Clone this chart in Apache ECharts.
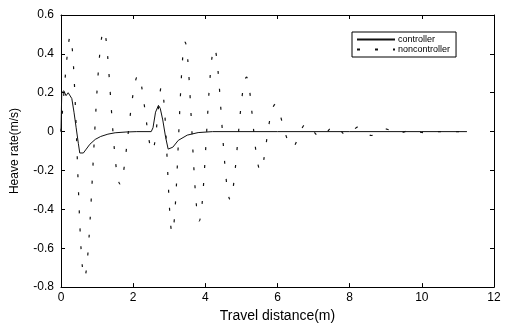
<!DOCTYPE html>
<html>
<head>
<meta charset="utf-8">
<script src="https://cdn.jsdelivr.net/npm/echarts@6/dist/echarts.min.js"></script>
<style>
html,body{margin:0;padding:0;background:#fff;}
#chart{width:507px;height:328px;}
</style>
</head>
<body>
<div id="chart"></div>
<script>
// Travel distance (m) and heave rate (m/s)
var controllerX = [0, 0.02, 0.08, 0.14, 0.2, 0.25, 0.3, 0.36, 0.42, 0.48, 0.52, 0.56, 0.62, 0.7, 0.8, 0.95, 1.1, 1.3, 1.5, 1.8, 2.1, 2.5,
  2.55, 2.62, 2.7, 2.75, 2.82, 2.9, 2.97, 3.02, 3.1, 3.25, 3.5, 3.8, 4.2, 6, 8, 10, 11.25];
var controllerY = [0, 0.2, 0.21, 0.185, 0.2, 0.21, 0.17, 0.1, 0.02, -0.06, -0.11, -0.12, -0.11, -0.09, -0.065, -0.04, -0.025, -0.013, -0.006, -0.002, 0, 0,
  0.02, 0.1, 0.135, 0.12, 0.06, -0.03, -0.09, -0.1, -0.08, -0.045, -0.018, -0.005, 0, 0, 0, 0, 0];

var noncontrollerX = [0, 0.25, 0.65, 1.19, 1.64, 2.14, 2.53, 2.78, 3.08, 3.44, 3.83, 4.25, 4.69, 5.14, 5.53, 5.94, 6.42,
  6.8, 7.2, 7.58, 7.92, 8.25, 8.6, 8.97, 9.33, 9.7, 10.05, 10.5, 11.25];
var noncontrollerY = [0, 0.49, -0.75, 0.52, -0.27, 0.29, -0.1, 0.23, -0.52, 0.46, -0.46, 0.43, -0.35, 0.28, -0.2, 0.14, -0.08,
  0.04, -0.03, 0.03, -0.02, 0.025, -0.02, 0.015, -0.01, 0.008, -0.005, 0, 0];

var xTicks = {min: 0, max: 12, interval: 2};
var yTicks = {min: -0.8, max: 0.6, interval: 0.2};

function pairs(xs, ys) { return xs.map(function (x, i) { return [x, ys[i]]; }); }

var FONT = '"Liberation Sans", Arial, sans-serif';
var axisLine = {show: true, onZero: false, lineStyle: {color: '#000', width: 1}};
var tick = {show: true, inside: true, length: 4, lineStyle: {color: '#000'}};

var chart = echarts.init(document.getElementById('chart'), null, {renderer: 'canvas'});
chart.setOption({
  animation: false,
  backgroundColor: '#fff',
  grid: {left: 61, right: 13, top: 15, bottom: 36},
  legend: {
    left: 352, top: 32, orient: 'vertical',
    itemWidth: 38, itemHeight: 8, itemGap: 1,
    padding: [3, 6, 3, 4],
    borderColor: '#000', borderWidth: 1, backgroundColor: '#fff',
    itemStyle: {opacity: 0},
    textStyle: {fontFamily: FONT, fontSize: 9, color: '#000', padding: [0, 0, 0, -2]},
    data: ['controller', 'noncontroller']
  },
  xAxis: [{
    type: 'value', min: xTicks.min, max: xTicks.max, interval: xTicks.interval,
    name: 'Travel distance(m)', nameLocation: 'middle', nameGap: 20,
    nameTextStyle: {fontFamily: FONT, fontSize: 14, color: '#000'},
    axisLine: axisLine, axisTick: tick, splitLine: {show: false},
    axisLabel: {fontFamily: FONT, fontSize: 12, color: '#000', margin: 5}
  }, {
    type: 'value', position: 'top', min: xTicks.min, max: xTicks.max, interval: xTicks.interval,
    axisLine: axisLine, axisTick: tick, splitLine: {show: false}, axisLabel: {show: false}
  }],
  yAxis: [{
    type: 'value', min: yTicks.min, max: yTicks.max, interval: yTicks.interval,
    name: 'Heave rate(m/s)', nameLocation: 'middle', nameGap: 40,
    nameTextStyle: {fontFamily: FONT, fontSize: 12, color: '#000'},
    axisLine: axisLine, axisTick: tick, splitLine: {show: false},
    axisLabel: {fontFamily: FONT, fontSize: 12, color: '#000', margin: 7,
      formatter: function (v) { return Math.abs(v) < 1e-9 ? '0' : v.toFixed(1); }}
  }, {
    type: 'value', position: 'right', min: yTicks.min, max: yTicks.max, interval: yTicks.interval,
    axisLine: axisLine, axisTick: tick, splitLine: {show: false}, axisLabel: {show: false}
  }],
  series: [{
    name: 'controller', type: 'line', symbol: 'none',
    data: pairs(controllerX, controllerY),
    lineStyle: {color: '#111', width: 1, type: 'solid'},
    itemStyle: {color: '#111'}
  }, {
    name: 'noncontroller', type: 'line', symbol: 'none', smooth: 0.35,
    data: pairs(noncontrollerX, noncontrollerY),
    lineStyle: {color: '#111', width: 1.2, type: [3, 15]},
    itemStyle: {color: '#111'}
  }]
});
</script>
</body>
</html>
